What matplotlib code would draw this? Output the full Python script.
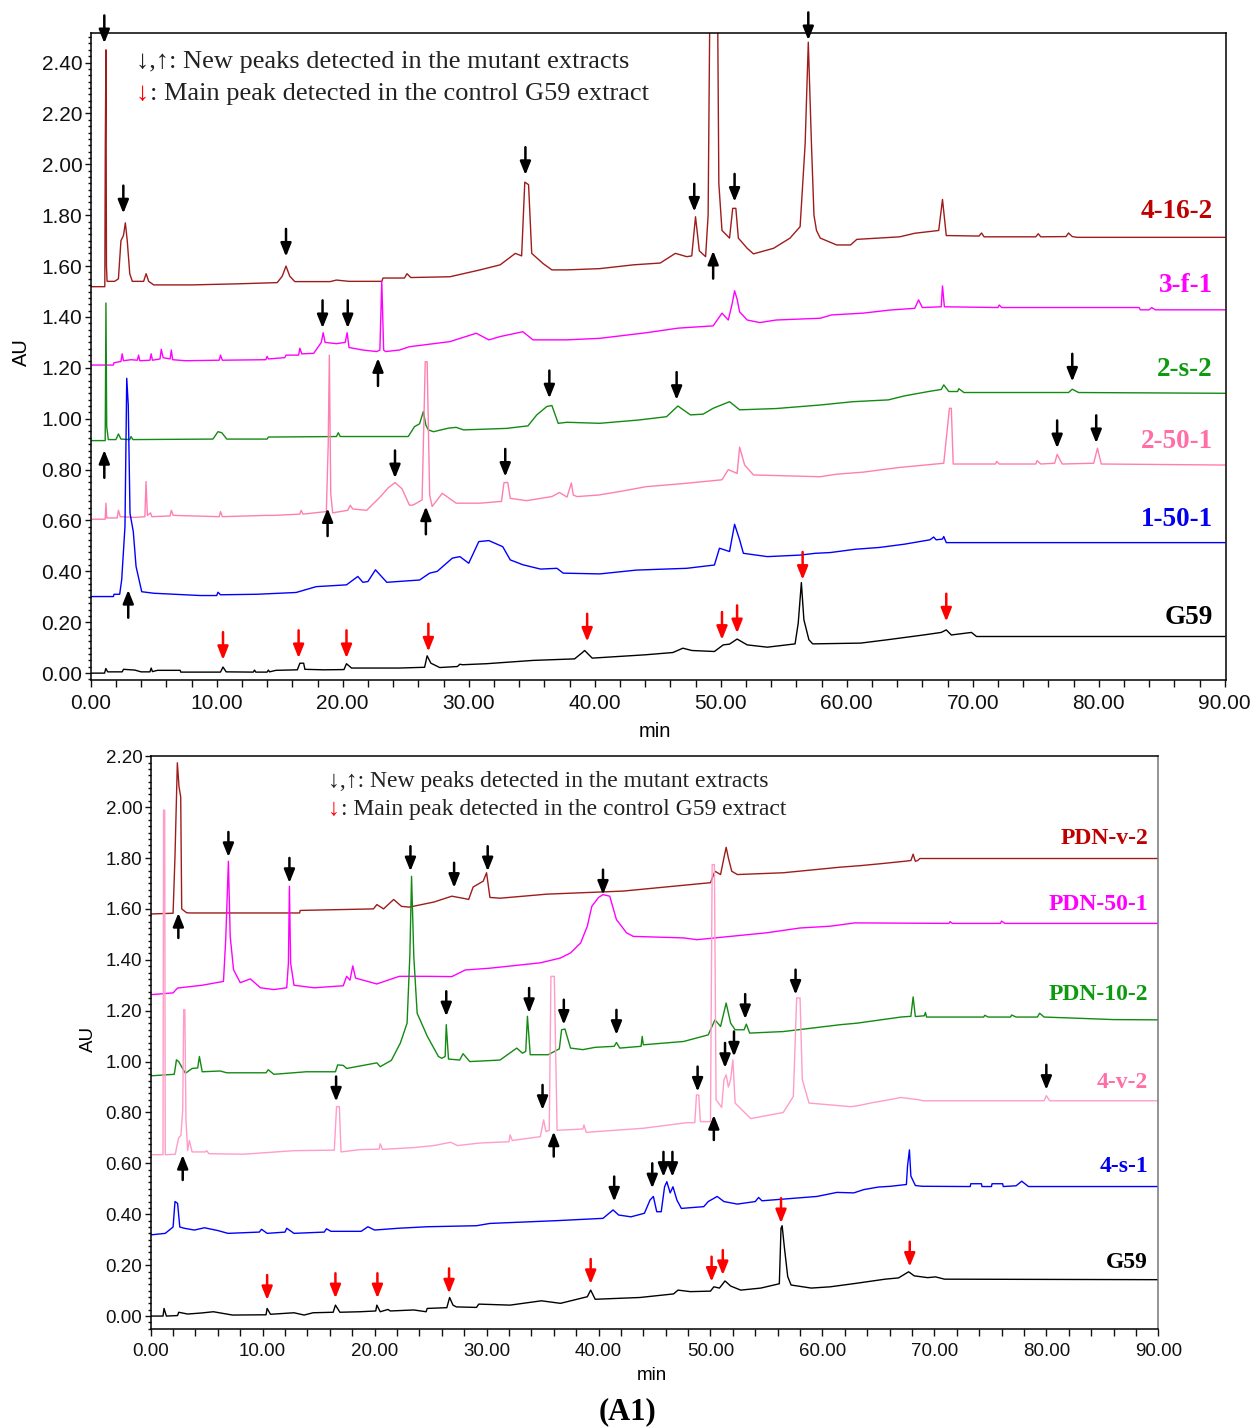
import matplotlib
matplotlib.use('Agg')
from matplotlib import pyplot as plt
from matplotlib.ticker import MultipleLocator, FormatStrFormatter

# ---- data: (time in min, absorbance in AU) ----
top_4_16_2 = [(0, 1.519), (1.12, 1.519), (1.16, 2.08), (1.21, 2.45), (1.25, 1.60), (1.3, 1.54), (1.9, 1.54),
              (2.2, 1.55), (2.4, 1.70), (2.6, 1.72), (2.75, 1.77), (2.9, 1.70), (3.1, 1.57), (3.3, 1.54),
              (4.2, 1.54), (4.4, 1.57), (4.6, 1.54), (5.0, 1.526), (8.0, 1.526), (11.5, 1.53), (14.8, 1.535),
              (15.2, 1.56), (15.5, 1.60), (15.8, 1.56), (16.2, 1.539), (19.0, 1.539), (19.5, 1.545),
              (20.5, 1.54), (23.1, 1.54), (23.2, 1.553), (24.9, 1.553), (25.1, 1.57), (25.4, 1.555),
              (28.5, 1.558), (30.9, 1.585), (32.5, 1.605), (33.7, 1.65), (34.2, 1.64), (34.45, 1.93),
              (34.75, 1.92), (35.0, 1.65), (35.9, 1.61), (36.6, 1.585), (37.8, 1.585), (40.4, 1.59),
              (43.1, 1.605), (45.2, 1.612), (46.4, 1.65), (47.3, 1.637), (47.7, 1.64), (48.0, 1.794),
              (48.3, 1.66), (48.8, 1.637), (49.0, 1.80), (49.2, 3.0), (49.7, 3.0), (49.85, 1.925), (50.1, 1.74),
              (50.7, 1.71), (50.95, 1.827), (51.2, 1.827), (51.4, 1.71), (52.1, 1.67), (52.6, 1.648),
              (54.2, 1.67), (55.5, 1.71), (56.3, 1.755), (56.7, 2.08), (56.95, 2.48), (57.2, 2.08),
              (57.4, 1.80), (57.6, 1.74), (57.9, 1.71), (59.2, 1.683), (60.3, 1.683), (60.8, 1.705),
              (64.2, 1.715), (65.4, 1.729), (67.3, 1.74), (67.6, 1.862), (67.9, 1.72), (70.5, 1.718),
              (70.7, 1.73), (70.9, 1.715), (75.0, 1.715), (75.2, 1.727), (75.4, 1.715), (77.4, 1.716),
              (77.6, 1.73), (77.9, 1.716), (78.3, 1.713), (90, 1.713)]
top_3_f_1 = [(0, 1.211), (1.8, 1.211), (1.85, 1.22), (2.4, 1.225), (2.5, 1.255), (2.6, 1.228), (3.2, 1.232),
             (3.7, 1.23), (3.8, 1.25), (3.9, 1.228), (4.7, 1.23), (4.8, 1.255), (4.9, 1.23), (5.5, 1.235),
             (5.6, 1.273), (5.75, 1.24), (6.3, 1.235), (6.4, 1.27), (6.5, 1.232), (7.5, 1.228), (10.2, 1.23),
             (10.3, 1.25), (10.45, 1.23), (13.9, 1.232), (14.0, 1.245), (14.1, 1.235), (15.4, 1.24),
             (15.5, 1.25), (16.5, 1.25), (16.6, 1.277), (16.75, 1.255), (17.7, 1.257), (18.3, 1.30),
             (18.45, 1.338), (18.6, 1.30), (19.5, 1.295), (20.2, 1.30), (20.35, 1.338), (20.5, 1.28),
             (21.6, 1.27), (22.7, 1.264), (22.95, 1.27), (23.1, 1.539), (23.25, 1.27), (23.4, 1.264),
             (24.5, 1.27), (25.3, 1.283), (28.5, 1.303), (30.6, 1.336), (31.6, 1.31), (32.5, 1.323),
             (34.3, 1.342), (35.1, 1.31), (37.8, 1.31), (40.4, 1.316), (44.1, 1.338), (46.6, 1.356),
             (49.4, 1.365), (50.1, 1.415), (50.6, 1.388), (50.9, 1.45), (51.1, 1.503), (51.3, 1.47),
             (51.5, 1.42), (52.1, 1.388), (53.1, 1.378), (54.4, 1.388), (57.9, 1.395), (58.8, 1.408),
             (61.3, 1.415), (63.4, 1.427), (65.4, 1.434), (65.7, 1.467), (66.0, 1.437), (67.5, 1.44),
             (67.6, 1.522), (67.75, 1.44), (72.0, 1.437), (72.1, 1.447), (72.3, 1.437), (83.2, 1.437),
             (83.3, 1.428), (84.0, 1.428), (84.2, 1.437), (84.5, 1.428), (90, 1.428)]
top_2_s_2 = [(0, 0.914), (1.15, 0.914), (1.21, 1.455), (1.27, 0.969), (1.4, 0.918), (2.0, 0.918), (2.2, 0.94),
             (2.4, 0.92), (3.1, 0.918), (3.2, 0.93), (3.35, 0.918), (9.7, 0.92), (10.1, 0.949), (10.4, 0.945),
             (10.8, 0.92), (14.0, 0.92), (14.1, 0.928), (19.5, 0.93), (19.65, 0.945), (19.8, 0.93),
             (25.2, 0.93), (25.7, 0.969), (26.1, 0.98), (26.4, 1.028), (26.6, 0.975), (26.8, 0.956),
             (27.2, 0.949), (28.4, 0.963), (29.0, 0.966), (29.6, 0.956), (33.0, 0.962), (34.7, 0.972),
             (35.4, 1.015), (36.2, 1.048), (36.6, 1.052), (37.1, 0.982), (37.8, 0.986), (40.4, 0.982),
             (43.5, 0.995), (45.7, 1.008), (46.6, 1.05), (47.6, 1.015), (48.6, 1.018), (49.4, 1.041),
             (50.7, 1.067), (51.5, 1.035), (54.4, 1.04), (57.9, 1.054), (60.5, 1.067), (63.3, 1.074),
             (64.6, 1.09), (66.5, 1.107), (67.5, 1.115), (67.7, 1.133), (68.1, 1.107), (68.8, 1.107),
             (68.9, 1.118), (69.3, 1.103), (77.6, 1.103), (77.9, 1.116), (78.4, 1.103), (90, 1.10)]
top_2_50_1 = [(0, 0.605), (1.15, 0.605), (1.21, 0.668), (1.27, 0.61), (2.1, 0.61), (2.2, 0.64), (2.35, 0.615),
              (3.5, 0.612), (4.3, 0.615), (4.39, 0.753), (4.5, 0.62), (4.75, 0.63), (4.85, 0.615), (6.3, 0.618),
              (6.4, 0.64), (6.55, 0.62), (10.2, 0.615), (10.3, 0.635), (10.45, 0.615), (13.9, 0.62),
              (14.5, 0.62), (16.6, 0.625), (16.7, 0.64), (16.85, 0.625), (18.7, 0.635), (18.85, 0.9),
              (18.94, 1.25), (19.05, 0.707), (19.2, 0.63), (20.4, 0.64), (20.6, 0.66), (20.8, 0.645),
              (21.9, 0.64), (23.0, 0.694), (23.6, 0.728), (24.15, 0.749), (24.7, 0.725), (25.3, 0.66),
              (25.6, 0.661), (26.3, 0.681),
              (26.55, 1.224), (26.7, 1.224), (26.9, 0.70), (27.1, 0.655), (27.9, 0.707), (29.0, 0.668),
              (30.9, 0.668), (32.6, 0.675), (32.8, 0.749), (33.1, 0.749), (33.3, 0.687), (34.6, 0.678),
              (36.6, 0.694), (37.2, 0.71), (37.8, 0.692), (38.15, 0.747), (38.3, 0.70), (38.6, 0.694),
              (40.3, 0.70), (42.0, 0.714), (44.1, 0.733), (47.0, 0.745), (50.1, 0.76), (50.6, 0.80),
              (51.3, 0.785), (51.5, 0.888), (51.9, 0.818), (52.6, 0.779), (57.9, 0.772), (59.2, 0.782),
              (61.3, 0.79), (64.1, 0.808), (67.7, 0.825), (68.15, 1.041), (68.3, 1.041), (68.45, 0.822),
              (71.8, 0.822), (71.9, 0.832), (72.1, 0.822), (75.0, 0.822), (75.1, 0.835), (75.4, 0.822),
              (76.5, 0.825), (76.7, 0.86), (77.1, 0.822), (79.6, 0.825), (79.9, 0.884), (80.2, 0.822),
              (90, 0.818)]
top_1_50_1 = [(0, 0.301), (1.8, 0.301), (1.85, 0.31), (2.3, 0.31), (2.46, 0.367), (2.72, 0.576), (2.86, 1.159),
              (2.98, 1.054), (3.12, 0.628), (3.38, 0.556), (3.6, 0.419), (4.05, 0.32), (5.0, 0.314),
              (8.7, 0.305), (10.0, 0.305), (10.1, 0.318), (10.3, 0.308), (13.2, 0.31), (16.3, 0.317),
              (17.9, 0.34), (20.3, 0.347), (21.2, 0.38), (21.6, 0.357), (22.0, 0.36), (22.6, 0.406),
              (23.5, 0.357), (26.1, 0.366), (26.9, 0.393), (27.5, 0.40), (28.7, 0.452), (29.3, 0.458),
              (30.0, 0.432), (30.8, 0.517), (31.6, 0.521), (32.7, 0.497), (33.3, 0.445), (34.3, 0.426),
              (35.7, 0.409), (37.0, 0.412), (37.5, 0.393), (40.4, 0.39), (43.3, 0.405), (47.3, 0.412),
              (49.5, 0.425), (49.9, 0.491), (50.7, 0.478), (51.1, 0.585), (51.5, 0.524), (51.8, 0.471),
              (53.7, 0.458), (56.3, 0.464), (57.5, 0.471), (58.7, 0.474), (60.7, 0.487), (62.6, 0.494),
              (64.6, 0.507), (66.6, 0.524), (66.9, 0.535), (67.1, 0.524), (67.6, 0.527), (67.7, 0.537),
              (67.9, 0.513), (90, 0.513)]
top_g59 = [(0, 0.0), (1.1, 0.0), (1.2, 0.018), (1.35, 0.005), (2.5, 0.005), (2.6, 0.015), (3.5, 0.012),
           (4.0, 0.005), (4.7, 0.005), (4.8, 0.02), (4.9, 0.006), (5.3, 0.011), (7.1, 0.011), (7.15, 0.004),
           (10.3, 0.004), (10.5, 0.024), (10.75, 0.005), (12.9, 0.004), (13.0, 0.012), (13.1, 0.004),
           (14.0, 0.004), (14.1, 0.012), (14.2, 0.005), (14.7, 0.011), (16.4, 0.013), (16.6, 0.039),
           (16.9, 0.039), (17.0, 0.015), (18.5, 0.013), (20.1, 0.014), (20.3, 0.037), (20.7, 0.02),
           (24.5, 0.02), (26.5, 0.023), (26.7, 0.068), (27.0, 0.039), (27.7, 0.022), (29.1, 0.026),
           (29.3, 0.035), (29.5, 0.033), (31.4, 0.037), (35.1, 0.05), (38.4, 0.056), (39.0, 0.08),
           (39.2, 0.089), (39.8, 0.059), (44.0, 0.072), (46.2, 0.081), (47.0, 0.098), (47.7, 0.089),
           (49.5, 0.085), (50.2, 0.111), (50.7, 0.114), (51.3, 0.134), (52.1, 0.111), (53.7, 0.102),
           (55.9, 0.115), (56.15, 0.196), (56.4, 0.356), (56.6, 0.21), (57.0, 0.131), (57.3, 0.115),
           (61.1, 0.118), (63.2, 0.131), (66.1, 0.15), (67.5, 0.16), (67.9, 0.17), (68.3, 0.15),
           (69.9, 0.16), (70.3, 0.144), (90, 0.144)]

bot_pdn_v_2 = [(0, 1.58), (2.0, 1.583), (2.17, 1.807), (2.38, 2.174), (2.53, 2.08), (2.68, 2.04), (2.77, 1.60),
               (3.2, 1.585), (3.5, 1.584), (13.3, 1.584), (13.35, 1.594), (19.9, 1.60), (20.2, 1.617),
               (20.8, 1.60), (21.7, 1.637), (22.4, 1.61), (23.1, 1.607), (25.3, 1.627), (26.9, 1.65),
               (28.1, 1.64), (28.4, 1.637), (28.8, 1.686), (29.7, 1.709), (30.0, 1.742), (30.3, 1.645),
               (31.2, 1.642), (35.4, 1.658), (42.2, 1.67), (50.0, 1.703), (50.4, 1.748), (50.9, 1.735),
               (51.2, 1.80), (51.4, 1.842), (51.6, 1.80), (51.9, 1.748), (52.4, 1.735), (56.5, 1.742),
               (61.6, 1.764), (63.4, 1.77), (65.3, 1.778), (67.3, 1.787), (67.9, 1.79), (68.1, 1.815),
               (68.3, 1.787), (68.5, 1.79), (68.7, 1.798), (90, 1.798)]
bot_pdn_50_1 = [(0, 1.263), (2.0, 1.27), (2.4, 1.289), (4.6, 1.30), (6.5, 1.315), (6.7, 1.479), (6.94, 1.787),
                (7.1, 1.492), (7.4, 1.361), (8.0, 1.31), (8.9, 1.325), (9.8, 1.29), (11.0, 1.283),
                (12.15, 1.29), (12.3, 1.387), (12.39, 1.689), (12.5, 1.387), (12.8, 1.30), (14.6, 1.29),
                (17.2, 1.298), (17.5, 1.335), (17.8, 1.32), (18.05, 1.376), (18.3, 1.328), (20.2, 1.305),
                (22.2, 1.335), (24.7, 1.335), (26.9, 1.334), (28.1, 1.36), (30.3, 1.367), (34.8, 1.388),
                (36.6, 1.407), (37.5, 1.427), (38.4, 1.466), (39.0, 1.532), (39.4, 1.61), (40.0, 1.645),
                (40.4, 1.656), (41.0, 1.65), (41.6, 1.558), (42.5, 1.506), (43.1, 1.492), (47.6, 1.486),
                (48.8, 1.479), (55.0, 1.506), (58.0, 1.525), (60.7, 1.532), (62.9, 1.545), (71.3, 1.543),
                (71.4, 1.55), (71.6, 1.543), (75.9, 1.543), (76.0, 1.552), (76.3, 1.543), (90, 1.543)]
bot_pdn_10_2 = [(0, 0.944), (2.1, 0.95), (2.17, 0.968), (2.3, 1.007), (2.5, 1.0), (3.1, 0.954), (3.7, 0.973),
                (4.2, 0.975), (4.35, 1.02), (4.6, 0.96), (6.2, 0.963), (6.8, 0.956), (10.3, 0.956),
                (10.5, 0.968), (11.0, 0.95), (13.9, 0.96), (16.5, 0.96), (16.7, 0.987), (17.2, 0.985),
                (17.5, 0.973), (20.2, 0.995), (20.5, 0.98), (21.5, 1.005), (22.3, 1.073), (22.9, 1.151),
                (23.15, 1.42), (23.3, 1.728), (23.5, 1.413), (23.8, 1.19), (24.7, 1.10), (25.7, 1.02),
                (26.0, 1.013), (26.3, 1.02), (26.4, 1.145), (26.6, 1.01), (27.6, 1.006), (27.9, 1.031),
                (28.5, 1.0), (31.2, 1.006), (32.7, 1.053), (33.2, 1.033), (33.5, 1.04), (33.65, 1.178),
                (33.9, 1.027), (35.5, 1.027), (36.5, 1.05), (36.7, 1.125), (37.0, 1.128), (37.5, 1.053),
                (38.6, 1.047), (39.7, 1.056), (41.4, 1.06), (41.6, 1.075), (41.9, 1.053), (43.8, 1.06),
                (43.9, 1.099), (44.0, 1.066), (47.6, 1.079), (49.8, 1.105), (50.4, 1.164), (50.9, 1.138),
                (51.4, 1.23), (51.8, 1.151), (52.2, 1.125), (53.0, 1.125), (53.2, 1.147), (53.5, 1.112),
                (56.5, 1.118), (61.6, 1.145), (63.1, 1.151), (67.0, 1.175), (67.9, 1.178), (68.1, 1.254),
                (68.3, 1.177), (69.1, 1.18), (69.2, 1.193), (69.3, 1.175), (74.4, 1.175), (74.5, 1.182),
                (74.8, 1.175), (76.8, 1.175), (76.9, 1.183), (77.3, 1.175), (79.2, 1.175), (79.4, 1.19),
                (79.8, 1.175), (83.0, 1.17), (86.0, 1.165), (90, 1.164)]
bot_4_v_2 = [(0, 0.634), (1.1, 0.634), (1.15, 1.988), (1.25, 1.988), (1.3, 0.634), (2.2, 0.636), (2.3, 0.66),
             (2.5, 0.70), (2.7, 0.71), (2.86, 0.81), (2.95, 1.204), (3.05, 1.204), (3.15, 0.77), (3.3, 0.65),
             (3.45, 0.69), (3.7, 0.645), (4.9, 0.645), (5.0, 0.65), (5.2, 0.638), (8.3, 0.636), (12.8, 0.65),
             (16.4, 0.652), (16.6, 0.823), (16.85, 0.823), (17.0, 0.645), (18.7, 0.654), (20.4, 0.656),
             (20.5, 0.677), (20.7, 0.655), (23.5, 0.662), (25.3, 0.67), (26.8, 0.683), (27.4, 0.67),
             (29.4, 0.68), (32.0, 0.685), (32.1, 0.712), (32.3, 0.69), (34.8, 0.705), (35.1, 0.771),
             (35.3, 0.725), (35.6, 0.73), (35.75, 1.335), (36.05, 1.335), (36.3, 0.73), (38.6, 0.735),
             (38.7, 0.751), (38.9, 0.722), (44.0, 0.738), (47.9, 0.76), (48.6, 0.76), (48.75, 0.869),
             (48.95, 0.869), (49.1, 0.764), (50.0, 0.764), (50.15, 1.774), (50.35, 1.774), (50.5, 0.85),
             (51.0, 0.82), (51.2, 0.928), (51.4, 0.948), (51.6, 0.90), (51.8, 0.93), (52.0, 1.007),
             (52.2, 0.837), (53.6, 0.776), (56.5, 0.80), (57.4, 0.863), (57.7, 1.25), (58.0, 1.25),
             (58.2, 0.93), (58.8, 0.837), (62.5, 0.823), (63.1, 0.826), (64.4, 0.838), (66.2, 0.852),
             (67.0, 0.859), (68.6, 0.85), (69.0, 0.846), (79.8, 0.846), (80.0, 0.866), (80.3, 0.846),
             (90, 0.846)]
bot_4_s_1 = [(0, 0.319), (1.3, 0.325), (2.0, 0.35), (2.17, 0.45), (2.4, 0.443), (2.6, 0.35), (3.0, 0.345),
             (3.9, 0.338), (4.8, 0.347), (6.0, 0.336), (6.9, 0.325), (9.7, 0.33), (9.9, 0.341), (10.4, 0.325),
             (12.0, 0.33), (12.15, 0.345), (12.8, 0.325), (15.5, 0.33), (15.7, 0.343), (16.1, 0.333),
             (18.8, 0.333), (19.4, 0.351), (20.0, 0.338), (22.1, 0.345), (24.7, 0.351), (29.1, 0.355),
             (30.3, 0.364), (36.3, 0.375), (40.4, 0.384), (41.3, 0.417), (41.8, 0.397), (42.9, 0.39),
             (44.1, 0.404), (44.6, 0.456), (44.9, 0.47), (45.2, 0.41), (45.6, 0.41), (45.9, 0.508),
             (46.1, 0.528), (46.4, 0.484), (46.65, 0.508), (47.0, 0.456), (47.4, 0.423), (49.4, 0.43),
             (49.8, 0.45), (50.6, 0.47), (51.2, 0.45), (52.4, 0.44), (54.0, 0.45), (54.3, 0.466),
             (54.6, 0.453), (59.5, 0.47), (61.3, 0.486), (62.8, 0.484), (63.7, 0.497), (65.0, 0.507),
             (66.1, 0.51), (67.5, 0.517), (67.6, 0.589), (67.77, 0.653), (67.9, 0.55), (68.3, 0.513),
             (68.9, 0.51), (73.2, 0.509), (73.25, 0.52), (74.2, 0.52), (74.25, 0.509), (75.1, 0.509),
             (75.15, 0.52), (76.1, 0.52), (76.15, 0.509), (77.3, 0.512), (77.8, 0.53), (78.4, 0.509),
             (90, 0.509)]
bot_g59 = [(0, 0.0), (1.1, 0.0), (1.19, 0.03), (1.4, 0.0), (2.4, 0.002), (2.5, 0.015), (3.3, 0.008),
           (4.5, 0.012), (5.6, 0.017), (7.3, 0.004), (10.3, 0.005), (10.4, 0.03), (10.7, 0.007),
           (12.8, 0.013), (13.7, 0.004), (14.5, 0.013), (16.3, 0.015), (16.5, 0.043), (16.9, 0.015),
           (18.7, 0.017), (20.1, 0.02), (20.2, 0.043), (20.5, 0.017), (21.2, 0.026), (21.4, 0.02),
           (23.5, 0.024), (24.6, 0.017), (24.7, 0.03), (26.45, 0.033), (26.7, 0.073), (27.0, 0.043),
           (27.3, 0.036), (29.1, 0.034), (29.3, 0.047), (32.1, 0.043), (34.9, 0.06), (36.6, 0.05),
           (39.0, 0.076), (39.3, 0.102), (39.7, 0.066), (43.7, 0.073), (46.7, 0.087), (47.1, 0.102),
           (48.2, 0.096), (50.0, 0.098), (50.3, 0.115), (50.8, 0.11), (51.3, 0.138), (51.8, 0.118),
           (52.7, 0.102), (54.5, 0.11), (56.15, 0.127), (56.3, 0.345), (56.4, 0.355), (56.6, 0.27),
           (56.9, 0.155), (57.2, 0.122), (59.0, 0.11), (60.7, 0.115), (62.9, 0.128), (65.6, 0.145),
           (66.8, 0.15), (67.7, 0.174), (68.2, 0.158), (69.4, 0.151), (70.1, 0.154), (70.9, 0.145),
           (90, 0.143)]

# peak markers: (time, AU at the arrow tip)
top_new_down = [(1.08, 2.476), (2.59, 1.807), (15.5, 1.637), (34.5, 1.958), (47.9, 1.814), (51.1, 1.853),
                (56.95, 2.488), (18.4, 1.356), (20.4, 1.356), (36.4, 1.08), (46.5, 1.074), (77.9, 1.146),
                (24.15, 0.766), (32.9, 0.772), (76.7, 0.884), (79.8, 0.904)]
top_new_up = [(49.4, 1.66), (22.8, 1.238), (1.08, 0.877), (18.8, 0.648), (26.6, 0.655), (2.98, 0.327)]
top_main = [(10.5, 0.052), (16.5, 0.059), (20.3, 0.059), (26.8, 0.085), (39.4, 0.124), (50.1, 0.131),
            (51.3, 0.157), (56.5, 0.367), (67.9, 0.203)]
bot_new_down = [(27.1, 1.683), (30.1, 1.748), (6.94, 1.804), (12.39, 1.702), (40.4, 1.656), (23.2, 1.748),
                (26.4, 1.178), (33.8, 1.191), (36.9, 1.145), (41.6, 1.105), (53.1, 1.167), (57.6, 1.263),
                (16.56, 0.843), (35.0, 0.81), (48.85, 0.882), (51.3, 0.975), (52.1, 1.02), (80.0, 0.889),
                (41.4, 0.45), (44.8, 0.502), (45.8, 0.547), (46.6, 0.547)]
bot_new_up = [(2.47, 1.584), (2.86, 0.633), (36.0, 0.725), (50.3, 0.79)]
bot_main = [(10.4, 0.063), (16.5, 0.07), (20.25, 0.07), (26.65, 0.089), (39.3, 0.126), (50.1, 0.135),
            (51.1, 0.161), (56.3, 0.365), (67.8, 0.194)]

top_names = ['4-16-2', '3-f-1', '2-s-2', '2-50-1', '1-50-1', 'G59']
bot_names = ['PDN-v-2', 'PDN-50-1', 'PDN-10-2', '4-v-2', '4-s-1', 'G59']

W, H = 1250, 1428
SERIF = ['Liberation Serif', 'DejaVu Serif']
SANS = ['Liberation Sans', 'DejaVu Sans']

line_colors = ['#9e1c1c', '#ff00ff', '#138a13', '#ff7fb0', '#0000ff', '#000000']
label_colors = ['#c00000', '#ff00ff', '#0e9a0e', '#ff6fa5', '#0000ee', '#000000']


def px(x, y):
    return x / W, 1 - y / H


def style_axes(ax, fs):
    ax.xaxis.set_major_locator(MultipleLocator(10))
    ax.xaxis.set_minor_locator(MultipleLocator(2))
    ax.yaxis.set_major_locator(MultipleLocator(0.2))
    ax.yaxis.set_minor_locator(MultipleLocator(0.025))
    ax.xaxis.set_major_formatter(FormatStrFormatter('%.2f'))
    ax.yaxis.set_major_formatter(FormatStrFormatter('%.2f'))
    ax.tick_params(which='both', direction='out', width=1.0, colors='#111111')
    ax.tick_params(axis='y', which='major', length=4.5, pad=1.5, labelsize=fs)
    ax.tick_params(axis='y', which='minor', length=2.5)
    ax.tick_params(axis='x', which='both', length=5, pad=5, labelsize=fs)
    for lab in ax.get_xticklabels() + ax.get_yticklabels():
        lab.set_family(SANS)
    for s in ax.spines.values():
        s.set_linewidth(1.1)


def draw_arrows(ax, pts, color, up=False, length=19):
    for t, tip in pts:
        ax.annotate('', xy=(t, tip), xytext=(0, -length if up else length), textcoords='offset points',
                    arrowprops=dict(arrowstyle='-|>,head_length=0.5,head_width=0.2', color=color,
                                    lw=1.8, mutation_scale=16, shrinkA=0, shrinkB=0),
                    annotation_clip=False)


fig = plt.figure(figsize=(W / 100, H / 100), dpi=100)

ax1 = fig.add_axes([90.7 / W, 1 - 680 / H, (1226 - 90.7) / W, (680 - 33.3) / H])
ax1.set_xlim(0, 90.1)
ax1.set_ylim(-0.027, 2.515)
style_axes(ax1, 15)
for trace, c in zip([top_4_16_2, top_3_f_1, top_2_s_2, top_2_50_1, top_1_50_1, top_g59], line_colors):
    t, au = zip(*trace)
    ax1.plot(t, au, color=c, lw=1.0)
draw_arrows(ax1, top_new_down, 'black', length=20)
draw_arrows(ax1, top_new_up, 'black', up=True, length=20)
draw_arrows(ax1, top_main, '#ff0000', length=20)

ax2 = fig.add_axes([150.7 / W, 1 - 1329.3 / H, (1158.3 - 150.7) / W, (1329.3 - 755.7) / H])
ax2.set_xlim(0, 90)
ax2.set_ylim(-0.052, 2.202)
style_axes(ax2, 13.5)
ax2.spines['right'].set_color('#777777')
bot_colors = ['#9e1c1c', '#ff00ff', '#138a13', '#ff9cc8', '#0000ff', '#000000']
for trace, c in zip([bot_pdn_v_2, bot_pdn_50_1, bot_pdn_10_2, bot_4_v_2, bot_4_s_1, bot_g59], bot_colors):
    t, au = zip(*trace)
    ax2.plot(t, au, color=c, lw=1.0)
draw_arrows(ax2, bot_new_down, 'black', length=18)
draw_arrows(ax2, bot_new_up, 'black', up=True, length=18)
draw_arrows(ax2, bot_main, '#ff0000', length=18)

# axis titles
fig.text(*px(21, 352), 'AU', rotation=90, ha='center', va='center', fontsize=14.5, family=SANS)
fig.text(*px(655, 732), 'min', ha='center', va='center', fontsize=14.5, family=SANS)
fig.text(*px(88, 1039), 'AU', rotation=90, ha='center', va='center', fontsize=13.5, family=SANS)
fig.text(*px(652, 1375), 'min', ha='center', va='center', fontsize=13.5, family=SANS)

# trace names
top_label_y = [211, 285, 370, 441, 520, 617]
for name, c, y in zip(top_names, label_colors, top_label_y):
    fig.text(*px(1213, y), name, ha='right', va='center', fontsize=19.5, fontweight='bold', color=c,
             family=SERIF)
bot_label_y = [839, 905, 995, 1083, 1167, 1262]
for name, c, y in zip(bot_names, label_colors, bot_label_y):
    fig.text(*px(1148, y), name, ha='right', va='center', fontsize=17, fontweight='bold', color=c,
             family=SERIF)

# key text
fig.text(*px(136, 62), '\u2193,\u2191: New peaks detected in the mutant extracts', ha='left', va='center',
         fontsize=19, color='#222222', family=SERIF)
fig.text(*px(136, 94), '\u2193', ha='left', va='center', fontsize=19, color='#ff0000', family=SERIF)
fig.text(*px(150, 94), ': Main peak detected in the control G59 extract', ha='left', va='center',
         fontsize=19, color='#222222', family=SERIF)
fig.text(*px(328, 781), '\u2193,\u2191: New peaks detected in the mutant extracts', ha='left', va='center',
         fontsize=17, color='#222222', family=SERIF)
fig.text(*px(328, 809), '\u2193', ha='left', va='center', fontsize=17, color='#ff0000', family=SERIF)
fig.text(*px(341, 809), ': Main peak detected in the control G59 extract', ha='left', va='center',
         fontsize=17, color='#222222', family=SERIF)

fig.text(*px(628, 1412), '(A1)', ha='center', va='center', fontsize=22, fontweight='bold', family=SERIF)

fig.savefig('out.png', dpi=100)
